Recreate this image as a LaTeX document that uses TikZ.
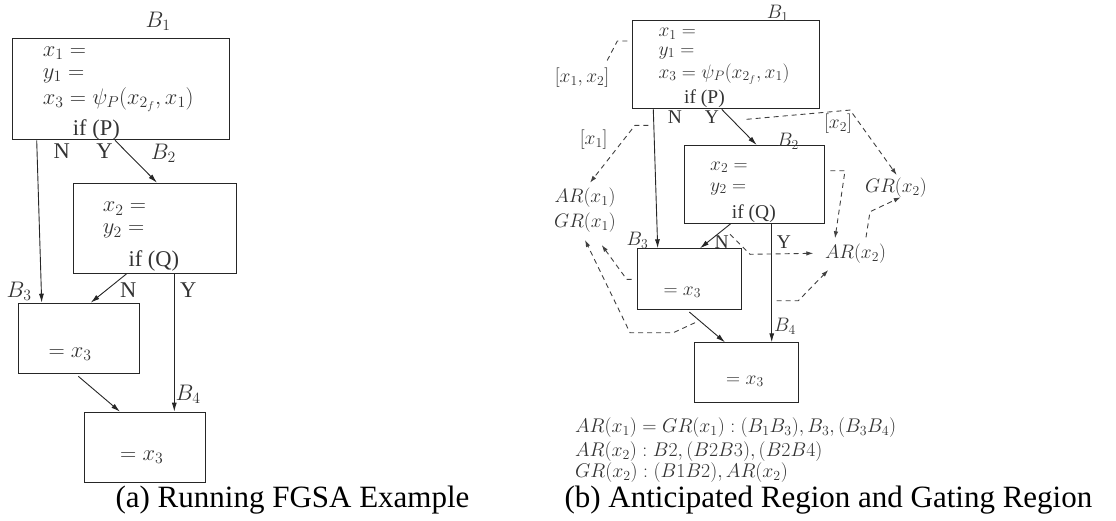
\RequirePackage{fix-cm}
\documentclass[tikz,border=0pt]{standalone}
\usepackage[no-math]{fontspec}
\setmainfont{Liberation Serif}
\usetikzlibrary{arrows.meta,calc}
\newcommand\dgL{\fontsize{22.5}{27}\selectfont}
\newcommand\dgR{\fontsize{19.5}{23}\selectfont}
\newcommand\dgB{\fontsize{19.8}{22}\selectfont}
\newcommand\dgC{\fontsize{31}{37}\selectfont}
\tikzset{
  box/.style={draw=black!85, line width=1pt, inner sep=0pt, anchor=north west},
  txt/.style={inner sep=0pt, anchor=base west, text=black!80},
  lbl/.style={inner sep=0pt, text=black!80},
  arr/.style={draw=black!85, line width=0.9pt, -{Latex[length=9pt,width=5pt]}},
  dsh/.style={draw=black!75, line width=0.9pt, dash pattern=on 5pt off 4pt},
  darr/.style={dsh, -{Latex[length=7pt,width=4.5pt]}},
}
\begin{document}
\begin{tikzpicture}[x=1pt,y=-1pt]
\useasboundingbox (0,0) rectangle (1116,520);
% ---------------- left diagram (a) ----------------
\node[box, minimum width=216.7pt, minimum height=101.6pt] (lb1) at (12.3,37.7) {};
\node[box, minimum width=163pt, minimum height=90pt] (lb2) at (72.7,182.7) {};
\node[box, minimum width=121.6pt, minimum height=70.6pt] (lb3) at (17.7,302.7) {};
\node[box, minimum width=120.7pt, minimum height=70pt] (lb4) at (84.3,411.7) {};
\begin{scope}[font=\dgL]
\node[txt] (la1) at (42.7,56) {$x_1 =$};
\node[txt] (la2) at (42.7,78) {$y_1 =$};
\node[txt] (la3) at (42.7,104) {$x_3 = \psi_P(x_{2_f}, x_1)$};
\node[txt] (la4) at (72.7,135) {if (P)};
\node[txt] (lb2a) at (102.7,211.7) {$x_2 =$};
\node[txt] (lb2b) at (102.7,233.7) {$y_2 =$};
\node[txt] (lb2c) at (128.3,266) {if (Q)};
\node[txt] (lb3a) at (48.3,357) {$= x_3$};
\node[txt] (lb4a) at (120,460) {$= x_3$};
\node[lbl] (llB1) at (158,21.3) {$B_1$};
\node[lbl] (llB2) at (163.3,153.3) {$B_2$};
\node[lbl] (llB3) at (19,291.5) {$B_3$};
\node[lbl] (llB4) at (188,394) {$B_4$};
\node[lbl] (llN1) at (61.7,150.8) {N};
\node[lbl] (llY1) at (104.5,150.8) {Y};
\node[lbl] (llN2) at (128.3,289.7) {N};
\node[lbl] (llY2) at (188.3,289.7) {Y};
\end{scope}
\draw[arr] ($(lb1.south west)+(24.4,0)$) -- ($(lb3.north west)+(24,0)$);
\draw[arr] ($(lb1.south west)+(102.7,0)$) -- ($(lb2.north west)+(84.3,0)$);
\draw[arr] ($(lb2.south west)+(54,0)$) -- ($(lb3.north west)+(73,0)$);
\draw[arr] ($(lb2.south west)+(101.6,0)$) -- ($(lb4.north west)+(90,0)$);
\draw[arr] ($(lb3.south west)+(60.6,2)$) -- ($(lb4.north west)+(35.7,0)$);
% ---------------- right diagram (b) ----------------
\node[box, minimum width=187.3pt, minimum height=88.3pt] (rb1) at (631.7,20) {};
\node[box, minimum width=140.3pt, minimum height=77.7pt] (rb2) at (684,145) {};
\node[box, minimum width=103.7pt, minimum height=60.7pt] (rb3) at (637.3,248.3) {};
\node[box, minimum width=104pt, minimum height=59.4pt] (rb4) at (694.3,342.3) {};
\begin{scope}[font=\dgR]
\node[txt] (ra1) at (658.3,36.7) {$x_1 =$};
\node[txt] (ra2) at (658.3,55) {$y_1 =$};
\node[txt] (ra3) at (658.3,78) {$x_3 = \psi_P(x_{2_f}, x_1)$};
\node[txt] (ra4) at (684,103) {if (P)};
\node[txt] (rb2a) at (710,170) {$x_2 =$};
\node[txt] (rb2b) at (710,191) {$y_2 =$};
\node[txt] (rb2c) at (731.7,218) {if (Q)};
\node[txt] (rb3a) at (663.3,295) {$= x_3$};
\node[txt] (rb4a) at (726,384) {$= x_3$};
\node[lbl] (rlB1) at (777.8,13.3) {$B_1$};
\node[lbl] (rlB2) at (788,141.5) {$B_2$};
\node[lbl] (rlB3) at (637.5,240) {$B_3$};
\node[lbl] (rlB4) at (785,326.7) {$B_4$};
\node[lbl] (rlN1) at (675,117.5) {N};
\node[lbl] (rlY1) at (712,117.5) {Y};
\node[lbl] (rlN2) at (721.7,242.5) {N};
\node[lbl] (rlY2) at (784,241.7) {Y};
\node[lbl] (rx12) at (582,78) {$[x_1, x_2]$};
\node[lbl] (rx1) at (593.7,140) {$[x_1]$};
\node[lbl] (rx2) at (838,124) {$[x_2]$};
\node[lbl] (arx1) at (585,198) {$AR(x_1)$};
\node[lbl] (grx1) at (585,223) {$GR(x_1)$};
\node[lbl] (grx2) at (896,187.8) {$GR(x_2)$};
\node[lbl] (arx2) at (855.5,254) {$AR(x_2)$};
\end{scope}
\draw[arr] ($(rb1.south west)+(21.6,0)$) -- ($(rb3.north west)+(20.4,0)$);
\draw[arr] ($(rb1.south west)+(90,0)$) -- ($(rb2.north west)+(72.7,0)$);
\draw[arr] ($(rb2.south west)+(46.7,0)$) -- ($(rb3.north west)+(62.7,0)$);
\draw[arr] ($(rb2.south west)+(87.7,0)$) -- ($(rb4.north west)+(77.4,0)$);
\draw[arr] ($(rb3.south west)+(52,2)$) -- ($(rb4.north west)+(30.7,0)$);
% dashed connectors
\draw[dsh] ($(rb1.north west)+(-4.4,21)$) -- ++(-10,0) -- ($(rx12.north east)+(-3,-6)$);
\draw[darr] ($(rb1.south west)+(16.6,16)$) -- ++(-13.3,0) -- ($(arx1)+(5,-15.3)$);
\draw[darr] ($(rb1.south west)+(115,10)$) -- ($(rx2.north east)+(-2,-4)$) -- ($(grx2)+(0.7,-12.8)$);
\draw[darr] ($(rb2.north east)+(5,25.7)$) -- ++(14.7,0) -- ($(arx2)+(-20.5,-15.7)$);
\draw[darr] ($(arx2)+(10.5,-16.7)$) -- ++(4,-25.6) -- ($(grx2)+(4.7,9.5)$);
\draw[darr] ($(rb2.south west)+(46,10.6)$) -- ++(20,20) -- ($(arx2)+(-42.2,-0.7)$);
\draw[darr] ($(rb4.north west)+(82.4,-41.6)$) -- ++(21.6,0) -- ($(arx2)+(-27.2,16)$);
\draw[darr] ($(rb3.north west)+(-5.6,31)$) -- ++(-5,0) -- ($(grx1)+(16.7,22)$);
\draw[darr] ($(rb3.south west)+(57.7,12.7)$) -- ++(-21.7,10) -- ++(-43.3,0) -- ($(grx1)+(0,17)$);
% region descriptions
\begin{scope}[font=\dgB]
\node[txt] (t1) at (575,432.3) {$AR(x_1) = GR(x_1) : (B_1B_3), B_3, (B_3B_4)$};
\node[txt] (t2) at (575,456.7) {$AR(x_2) : B2, (B2B3), (B2B4)$};
\node[txt] (t3) at (575,477.3) {$GR(x_2) : (B1B2), AR(x_2)$};
\end{scope}
% captions
\node[inner sep=0pt, anchor=base, font=\dgC] (capa) at (292.5,507) {(a) Running FGSA Example};
\node[inner sep=0pt, anchor=base, font=\dgC] (capb) at (828.4,507) {(b) Anticipated Region and Gating Region};
\end{tikzpicture}
\end{document}
